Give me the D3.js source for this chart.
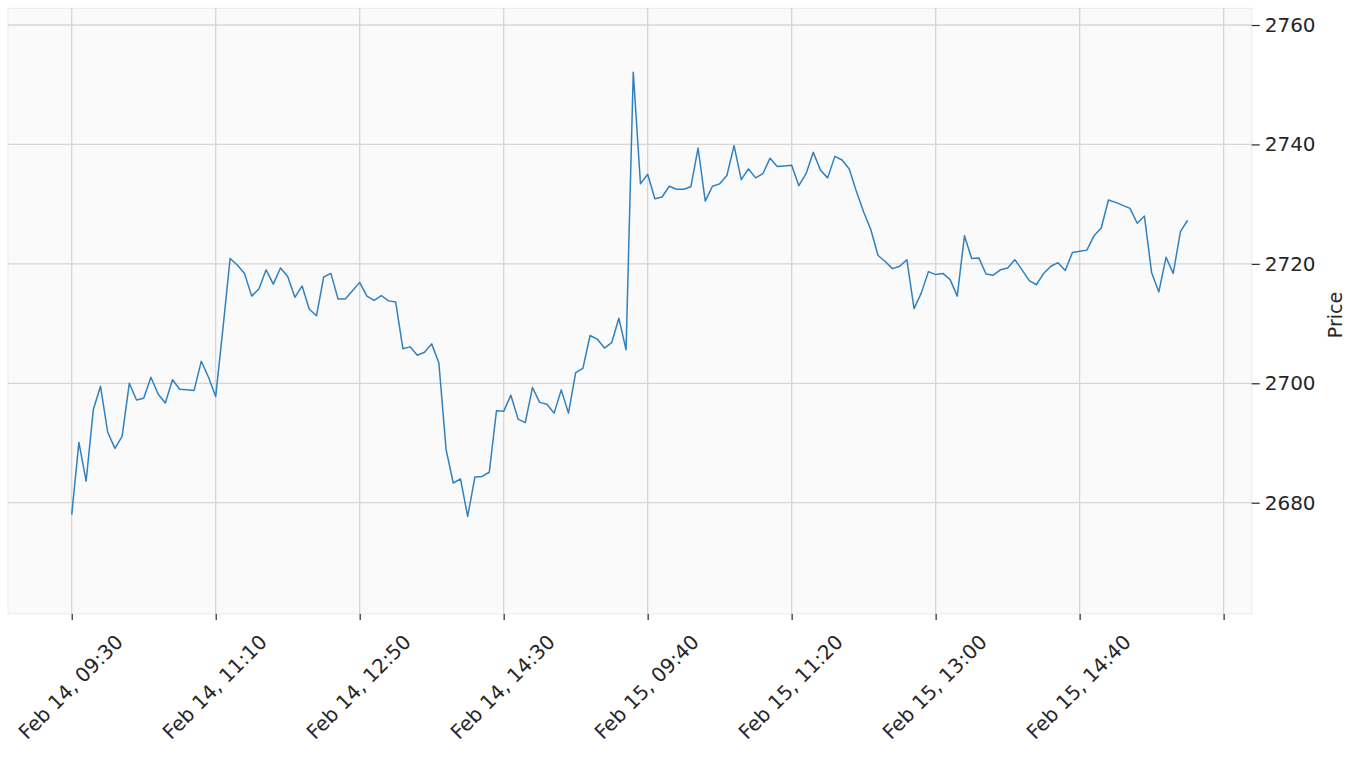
<!DOCTYPE html>
<html>
<head>
<meta charset="utf-8">
<script src="https://cdn.jsdelivr.net/npm/d3@7"></script>
<style>
  body { margin: 0; background: #ffffff; }
  text { font-family: "DejaVu Sans", sans-serif; fill: #262626; }
</style>
</head>
<body>
<div id="chart"></div>
<script>
// 5-minute closes, Feb 14 09:30 -> Feb 15 15:55 (index based, 78 bars per day)
var prices = [
  2678.0, 2690.1, 2683.6, 2695.6, 2699.5, 2691.8, 2689.1, 2691.1, 2700.0, 2697.2,
  2697.5, 2701.0, 2698.2, 2696.7, 2700.6, 2699.0, 2698.9, 2698.8, 2703.7, 2701.0,
  2697.8, 2709.1, 2720.9, 2719.8, 2718.4, 2714.6, 2715.8, 2719.0, 2716.6, 2719.3,
  2717.9, 2714.4, 2716.3, 2712.4, 2711.3, 2717.8, 2718.4, 2714.1, 2714.1, 2715.5,
  2716.9, 2714.6, 2713.9, 2714.7, 2713.8, 2713.6, 2705.8, 2706.1, 2704.7, 2705.2,
  2706.6, 2703.4, 2688.9, 2683.3, 2684.0, 2677.7, 2684.3, 2684.4, 2685.1, 2695.4,
  2695.3, 2698.0, 2694.0, 2693.4, 2699.3, 2696.8, 2696.5, 2695.0, 2698.9, 2695.0,
  2701.8, 2702.5, 2708.0, 2707.4, 2705.9, 2706.8, 2710.9, 2705.6, 2752.1, 2733.4,
  2735.0, 2730.9, 2731.2, 2733.0, 2732.5, 2732.5, 2732.9, 2739.4, 2730.5, 2733.0,
  2733.4, 2734.8, 2739.8, 2734.1, 2735.9, 2734.4, 2735.1, 2737.7, 2736.3, 2736.4,
  2736.5, 2733.1, 2735.1, 2738.7, 2735.7, 2734.4, 2738.0, 2737.4, 2735.9, 2732.1,
  2728.7, 2725.7, 2721.4, 2720.4, 2719.2, 2719.6, 2720.7, 2712.5, 2715.1, 2718.7,
  2718.2, 2718.4, 2717.4, 2714.6, 2724.7, 2720.9, 2721.0, 2718.3, 2718.1, 2719.0,
  2719.3, 2720.7, 2719.0, 2717.2, 2716.5, 2718.4, 2719.6, 2720.2, 2718.9, 2721.9,
  2722.1, 2722.3, 2724.7, 2726.0, 2730.7, 2730.3, 2729.8, 2729.3, 2726.8, 2728.0,
  2718.5, 2715.3, 2721.1, 2718.4, 2725.4, 2727.3
];

var xTicks = [0, 20, 40, 60, 80, 100, 120, 140, 160];
var xTickLabels = [
  "Feb 14, 09:30", "Feb 14, 11:10", "Feb 14, 12:50", "Feb 14, 14:30",
  "Feb 15, 09:40", "Feb 15, 11:20", "Feb 15, 13:00", "Feb 15, 14:40", ""
];
var yTicks = [2680, 2700, 2720, 2740, 2760];

var W = 1360, H = 760;
var plot = { left: 8, right: 1251.7, top: 8.3, bottom: 614 };

var svg = d3.select("#chart")
    .append("svg")
    .attr("width", W)
    .attr("height", H);

var x = d3.scaleLinear()
    .domain([-8.85, 163.9])
    .range([plot.left, plot.right]);

var y = d3.scaleLinear()
    .domain([2661.36, 2762.8])
    .range([plot.bottom, plot.top]);

// axes background
svg.append("rect")
    .attr("x", plot.left)
    .attr("y", plot.top)
    .attr("width", plot.right - plot.left)
    .attr("height", plot.bottom - plot.top)
    .style("fill", "#fafafa")
    .style("stroke", "#ececec")
    .style("stroke-width", 1);

// grid
svg.append("g")
    .selectAll("line.h")
    .data(yTicks)
    .join("line")
    .attr("x1", plot.left)
    .attr("x2", plot.right)
    .attr("y1", function (d) { return y(d); })
    .attr("y2", function (d) { return y(d); })
    .style("stroke", "#d6d6d6")
    .style("stroke-width", 1.3);

svg.append("g")
    .selectAll("line.v")
    .data(xTicks)
    .join("line")
    .attr("x1", function (d) { return x(d); })
    .attr("x2", function (d) { return x(d); })
    .attr("y1", plot.top)
    .attr("y2", plot.bottom)
    .style("stroke", "#d6d6d6")
    .style("stroke-width", 1.3);

// X axis (ticks only, rotated labels drawn separately)
var xAxis = svg.append("g")
    .attr("transform", "translate(0," + plot.bottom + ")")
    .call(d3.axisBottom(x).tickValues(xTicks).tickSize(6).tickFormat(""));
xAxis.select(".domain").remove();
xAxis.selectAll("line").style("stroke", "#262626").style("stroke-width", 1.2);

svg.append("g")
    .selectAll("text")
    .data(xTicks)
    .join("text")
    .attr("transform", function (d) {
        return "translate(" + (x(d) - 1) + ",687) rotate(-45)";
    })
    .attr("text-anchor", "middle")
    .attr("dominant-baseline", "central")
    .style("font-size", "20px")
    .text(function (d, i) { return xTickLabels[i]; });

// Y axis on the right
var yAxis = svg.append("g")
    .attr("transform", "translate(" + plot.right + ",0)")
    .call(d3.axisRight(y).tickValues(yTicks).tickSize(8).tickPadding(5).tickFormat(d3.format("d")));
yAxis.select(".domain").remove();
yAxis.selectAll("line").style("stroke", "#262626").style("stroke-width", 1.2);
yAxis.selectAll("text")
    .style("font-size", "20px")
    .style("font-family", "DejaVu Sans, sans-serif")
    .attr("fill", "#262626");

// Price label
svg.append("text")
    .attr("transform", "translate(1342,315) rotate(-90)")
    .attr("text-anchor", "middle")
    .style("font-size", "19px")
    .text("Price");

// price line
var line = d3.line()
    .x(function (d, i) { return x(i); })
    .y(function (d) { return y(d); });

svg.append("path")
    .datum(prices)
    .attr("d", line)
    .style("fill", "none")
    .style("stroke", "#3081c0")
    .style("stroke-width", 1.5)
    .style("stroke-linejoin", "round");
</script>
</body>
</html>
